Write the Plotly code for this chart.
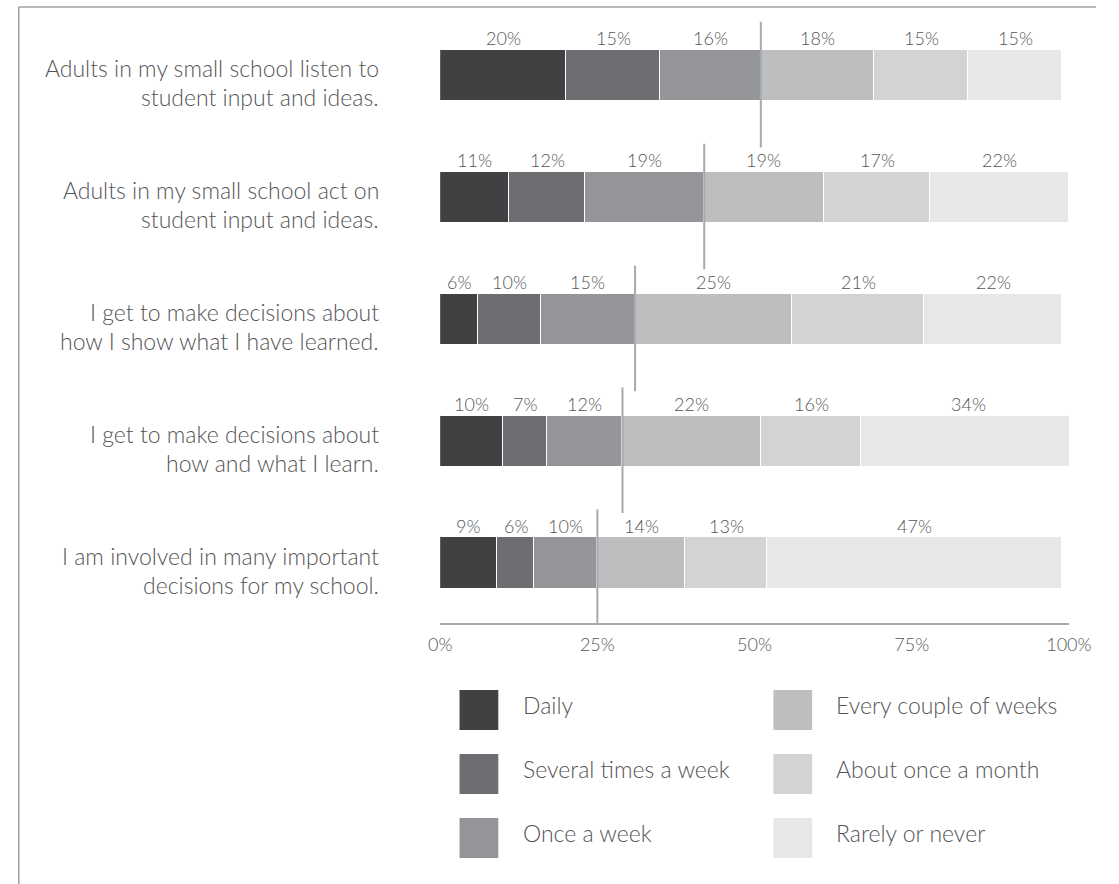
import plotly.graph_objects as go

# Survey items (top to bottom) and response categories
items = [
    "Adults in my small school listen to<br>student input and ideas.",
    "Adults in my small school act on<br>student input and ideas.",
    "I get to make decisions about<br>how I show what I have learned.",
    "I get to make decisions about<br>how and what I learn.",
    "I am involved in many important<br>decisions for my school.",
]
categories = ["Daily", "Several times a week", "Once a week",
              "Every couple of weeks", "About once a month", "Rarely or never"]

# Percent of students choosing each response, per item
daily = [20, 11, 6, 10, 9]
several = [15, 12, 10, 7, 6]
once_week = [16, 19, 15, 12, 10]
couple_weeks = [18, 19, 25, 22, 14]
once_month = [15, 17, 21, 16, 13]
rarely = [15, 22, 22, 34, 47]

tick_values = [0, 25, 50, 75, 100]
tick_labels = ["0%", "25%", "50%", "75%", "100%"]

series = [daily, several, once_week, couple_weeks, once_month, rarely]
colors = ["#414042", "#6d6e71", "#939598", "#bcbec0", "#d1d3d4", "#e6e7e8"]

W, H = 1119, 884
FONT = "Lato"
TEXT_COLOR = "#555557"
LINE_GRAY = "#a7a9ac"

n = len(items)
ypos = [n - 1 - i for i in range(n)]  # first item at the top
bar_w = 0.42

fig = go.Figure()

# stacked segments
for name, vals, col in zip(categories, series, colors):
    fig.add_trace(go.Bar(
        y=ypos, x=vals, orientation="h", name=name, width=bar_w,
        marker=dict(color=col, line=dict(color="white", width=1.5)),
        hoverinfo="x+name", showlegend=False,
    ))

annotations = []

# percentage labels above each segment
for r in range(n):
    start = 0
    for vals in series:
        v = vals[r]
        annotations.append(dict(
            x=start + v / 2, y=ypos[r], xref="x", yref="y", text=f"{v}%",
            showarrow=False, yshift=37,
            font=dict(family=FONT, size=18, color=TEXT_COLOR, weight=300),
        ))
        start += v

# item labels on the left, two right-aligned lines each
for r, label in enumerate(items):
    lines = label.split("<br>")
    for k, line in enumerate(lines):
        annotations.append(dict(
            x=381 / W, y=ypos[r], xref="paper", yref="y", text=line,
            showarrow=False, xanchor="right", yanchor="middle",
            yshift=7.5 - 29 * k,
            font=dict(family=FONT, size=23, color=TEXT_COLOR, weight=300),
        ))

# marker at the "weekly or more" boundary of each bar
y_bottom = -0.492
for r in range(n):
    cum = daily[r] + several[r] + once_week[r]
    fig.add_trace(go.Scatter(
        x=[cum, cum], y=[ypos[r] + 0.44, max(ypos[r] - 0.59, y_bottom)],
        mode="lines", line=dict(color=LINE_GRAY, width=2),
        hoverinfo="skip", showlegend=False,
    ))

# legend drawn as swatches + labels in two columns
shapes = []
col_x = [462, 786]
row_y = [690, 754, 818]
sw = 40
for i, (name, col) in enumerate(zip(categories, colors)):
    cx = col_x[i // 3]
    ry = row_y[i % 3]
    shapes.append(dict(
        type="rect", xref="paper", yref="paper",
        x0=cx / W, x1=(cx + sw) / W, y0=1 - (ry + sw) / H, y1=1 - ry / H,
        fillcolor=col, line=dict(width=0), layer="above",
    ))
    annotations.append(dict(
        x=(cx + 63) / W, y=1 - (ry + sw / 2 - 5) / H, xref="paper", yref="paper",
        text=name, showarrow=False, xanchor="left", yanchor="middle",
        font=dict(family=FONT, size=23, color=TEXT_COLOR, weight=300),
    ))

# frame along top and left edges
frame = "#a0a0a0"
shapes.append(dict(type="line", xref="paper", yref="paper",
                   x0=7 / W, x1=1.0, y0=1 - 7 / H, y1=1 - 7 / H,
                   line=dict(color=frame, width=1.5)))
shapes.append(dict(type="line", xref="paper", yref="paper",
                   x0=7 / W, x1=7 / W, y0=0, y1=1 - 7 / H,
                   line=dict(color=frame, width=1.5)))

fig.update_layout(
    width=W, height=H, barmode="stack", bargap=0,
    margin=dict(l=0, r=0, t=0, b=0),
    paper_bgcolor="white", plot_bgcolor="white",
    annotations=annotations, shapes=shapes,
    xaxis=dict(
        domain=[442 / W, 1091 / W], range=[0, 100],
        tickvals=tick_values, ticktext=tick_labels,
        showgrid=False, zeroline=False, showline=True,
        linecolor=LINE_GRAY, linewidth=2, ticks="",
        tickfont=dict(family=FONT, size=18, color=TEXT_COLOR, weight=300),
        ticklabelstandoff=4, fixedrange=True,
    ),
    yaxis=dict(
        domain=[1 - 623 / H, 1 - 7 / H], range=[y_bottom, 4.562],
        showticklabels=False, showgrid=False, zeroline=False,
        showline=False, ticks="", fixedrange=True,
    ),
    showlegend=False,
)

fig.write_html("out.html")
